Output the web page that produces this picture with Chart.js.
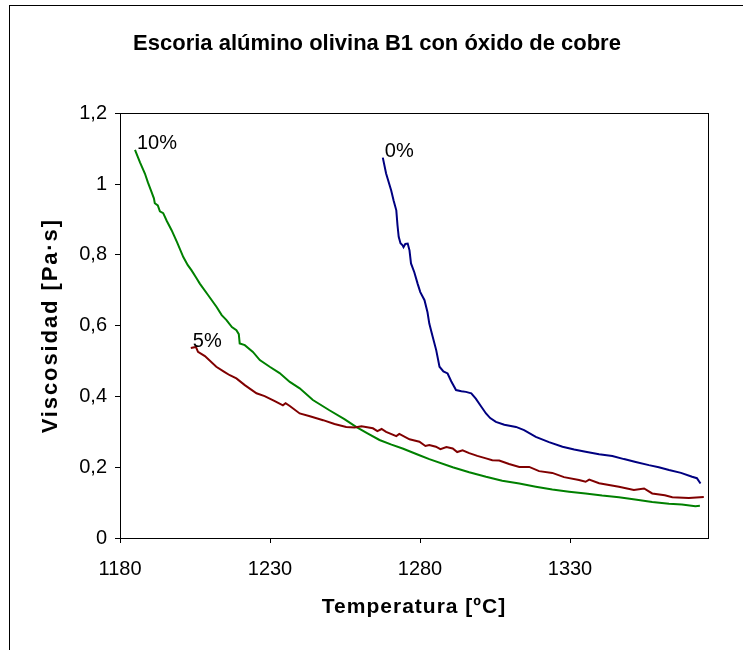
<!DOCTYPE html>
<html><head><meta charset="utf-8">
<script src="https://cdn.jsdelivr.net/npm/chart.js@4"></script>
<style>
html,body{margin:0;padding:0;background:#fff;}
#wrap{position:relative;width:743px;height:650px;overflow:hidden;background:#fff;}
#frame{position:absolute;left:9px;top:5px;width:800px;height:800px;border:1px solid #000;box-sizing:border-box;}
canvas{position:absolute;left:0;top:0;}
</style></head><body>
<div id="wrap"><div id="frame"></div><canvas id="c" width="743" height="650"></canvas></div>
<script>
const chartTitle = 'Escoria alúmino olivina B1 con óxido de cobre';
const xTitle = 'Temperatura [ºC]';
const yTitle = 'Viscosidad [Pa·s]';
const seriesLabels = ['0%', '5%', '10%'];
const xTicks = [1180, 1230, 1280, 1330];
const xTickLabels = ['1180', '1230', '1280', '1330'];
const yTicks = [0, 0.2, 0.4, 0.6, 0.8, 1.0, 1.2];
const yTickLabels = ['0', '0,2', '0,4', '0,6', '0,8', '1', '1,2'];

const temp0 = [1267.6,1268.7,1270.4,1271.2,1272.1,1272.5,1272.9,1273.5,1274.2,1274.5,1275.1,1275.9,1276.5,1277.0,1278.1,1279.2,1280.1,1281.5,1282.5,1283.1,1284.1,1285.4,1286.5,1287.8,1289.2,1290.4,1292.0,1293.8,1295.3,1297.1,1298.6,1300.1,1302.0,1303.4,1305.3,1308.1,1312.0,1314.7,1318.6,1323.0,1327.5,1331.4,1335.2,1339.7,1344.1,1348.0,1351.9,1356.3,1359.6,1363.0,1367.0,1370.7,1372.3,1373.5];
const visc0 = [1.075,1.030,0.982,0.954,0.926,0.884,0.851,0.833,0.827,0.822,0.831,0.832,0.813,0.776,0.751,0.719,0.695,0.672,0.638,0.606,0.573,0.531,0.484,0.471,0.465,0.443,0.418,0.415,0.413,0.409,0.394,0.375,0.352,0.339,0.328,0.320,0.314,0.305,0.286,0.271,0.258,0.250,0.244,0.237,0.232,0.223,0.215,0.206,0.200,0.192,0.184,0.173,0.169,0.154];

const temp5 = [1203.6,1205.3,1206.0,1208.3,1212.1,1214.9,1216.6,1218.8,1221.6,1225.5,1228.2,1231.6,1234.3,1235.2,1236.6,1239.9,1243.3,1247.7,1251.5,1255.4,1258.2,1260.5,1264.3,1265.8,1267.2,1268.7,1272.1,1273.1,1276.5,1279.8,1281.8,1283.1,1285.3,1286.8,1288.8,1290.9,1292.4,1294.2,1296.4,1299.1,1302.0,1304.1,1306.4,1309.7,1313.1,1316.4,1319.7,1324.1,1328.0,1333.0,1335.2,1336.4,1339.7,1346.3,1351.3,1354.7,1357.4,1361.6,1364.1,1369.6,1374.6];
const visc5 = [0.537,0.540,0.526,0.514,0.484,0.469,0.460,0.451,0.432,0.409,0.401,0.387,0.375,0.381,0.373,0.352,0.344,0.333,0.322,0.314,0.312,0.316,0.310,0.302,0.308,0.300,0.288,0.294,0.279,0.272,0.260,0.263,0.258,0.251,0.257,0.253,0.243,0.248,0.240,0.232,0.225,0.220,0.219,0.209,0.201,0.201,0.189,0.184,0.172,0.164,0.159,0.165,0.155,0.145,0.136,0.140,0.126,0.121,0.115,0.113,0.116];

const temp10 = [1185.0,1186.7,1188.3,1189.3,1190.5,1191.3,1191.6,1192.6,1193.3,1194.4,1195.6,1197.2,1199.0,1201.1,1202.6,1203.8,1205.3,1206.6,1209.4,1212.2,1213.9,1215.5,1217.3,1218.8,1219.6,1219.9,1221.6,1224.3,1226.6,1229.9,1233.2,1236.6,1239.9,1244.3,1249.8,1254.8,1258.7,1262.5,1266.5,1270.5,1274.2,1279.8,1283.1,1290.9,1296.4,1302.0,1307.4,1313.1,1318.6,1324.1,1329.7,1335.2,1340.7,1346.3,1351.7,1357.4,1363.0,1367.3,1371.8,1373.3];
const visc10 = [1.097,1.061,1.030,1.005,0.978,0.960,0.946,0.940,0.923,0.918,0.896,0.870,0.836,0.794,0.771,0.757,0.737,0.719,0.686,0.653,0.630,0.616,0.596,0.587,0.576,0.550,0.545,0.526,0.503,0.484,0.466,0.441,0.423,0.390,0.361,0.336,0.314,0.296,0.277,0.264,0.253,0.234,0.223,0.200,0.186,0.173,0.162,0.154,0.145,0.137,0.131,0.126,0.120,0.115,0.109,0.102,0.097,0.095,0.090,0.091];

const FAMILY = "'Liberation Sans', Arial, sans-serif";
const toPts = (xs, ys) => xs.map((x, i) => ({x, y: ys[i]}));

const framePlugin = {
  id: 'frame',
  afterDraw(chart) {
    const {ctx, chartArea: a} = chart;
    ctx.save();
    ctx.strokeStyle = '#000';
    ctx.lineWidth = 1;
    ctx.strokeRect(Math.round(a.left) + 0.5, Math.round(a.top) + 0.5, Math.round(a.right - a.left), Math.round(a.bottom - a.top));
    ctx.restore();
  }
};
const labelPlugin = {
  id: 'seriesLabels',
  afterDatasetsDraw(chart) {
    const ctx = chart.ctx;
    ctx.save();
    ctx.fillStyle = '#000';
    ctx.font = '20px ' + FAMILY;
    ctx.textAlign = 'left';
    ctx.textBaseline = 'alphabetic';
    chart.data.datasets.forEach((ds, i) => {
      const el = chart.getDatasetMeta(i).data[0];
      ctx.fillText(ds.label, el.x + 2, el.y - 1);
    });
    ctx.restore();
  }
};
// wider letter spacing on axis titles, like the original spreadsheet rendering
const spacingPlugin = {
  id: 'titleSpacing',
  afterLayout(chart) {
    [['x', '1px'], ['y', '1.9px']].forEach(([id, sp]) => {
      const s = chart.scales[id];
      if (!s || s._spPatched) return;
      const orig = s.drawTitle.bind(s);
      s.drawTitle = function () {
        const c = this.ctx;
        c.letterSpacing = sp;
        orig();
        c.letterSpacing = '0px';
      };
      s._spPatched = true;
    });
  }
};

new Chart(document.getElementById('c'), {
  type: 'line',
  data: {
    datasets: [
      {label: seriesLabels[0], data: toPts(temp0, visc0), borderColor: '#000080'},
      {label: seriesLabels[1], data: toPts(temp5, visc5), borderColor: '#800000'},
      {label: seriesLabels[2], data: toPts(temp10, visc10), borderColor: '#008000'}
    ]
  },
  options: {
    responsive: false,
    animation: false,
    devicePixelRatio: 1,
    layout: {padding: {left: 46, right: 35, top: 0, bottom: 0}},
    elements: {
      line: {borderWidth: 2, tension: 0, fill: false},
      point: {radius: 0, hoverRadius: 0}
    },
    plugins: {
      legend: {display: false},
      tooltip: {enabled: false},
      title: {
        display: true, text: chartTitle, color: '#000',
        font: {family: FAMILY, size: 22, weight: 'bold'},
        padding: {top: 31, bottom: 56}
      }
    },
    scales: {
      x: {
        type: 'linear', min: 1180, max: 1376,
        afterBuildTicks: s => { s.ticks = xTicks.map(v => ({value: v})); },
        afterFit: s => { s.height = 112; },
        ticks: {callback: (v, i) => xTickLabels[i], color: '#000', font: {family: FAMILY, size: 20}, padding: 14, maxRotation: 0, autoSkip: false},
        grid: {drawOnChartArea: false, tickLength: 5, color: '#000', tickColor: '#000'},
        border: {color: '#000', width: 1},
        title: {display: true, text: xTitle, color: '#000', font: {family: FAMILY, size: 21, weight: 'bold'}, padding: {top: 0, bottom: 30}}
      },
      y: {
        min: 0, max: 1.2,
        afterBuildTicks: s => { s.ticks = yTicks.map(v => ({value: v})); },
        afterFit: s => { s.width = 74; },
        ticks: {callback: (v, i) => yTickLabels[i], color: '#000', font: {family: FAMILY, size: 20}, padding: 8, autoSkip: false},
        grid: {drawOnChartArea: false, tickLength: 5, color: '#000', tickColor: '#000'},
        border: {color: '#000', width: 1},
        title: {display: true, text: yTitle, color: '#000', font: {family: FAMILY, size: 22, weight: 'bold'}, padding: {top: -8, bottom: 0}}
      }
    }
  },
  plugins: [framePlugin, labelPlugin, spacingPlugin]
});
</script>
</body></html>
